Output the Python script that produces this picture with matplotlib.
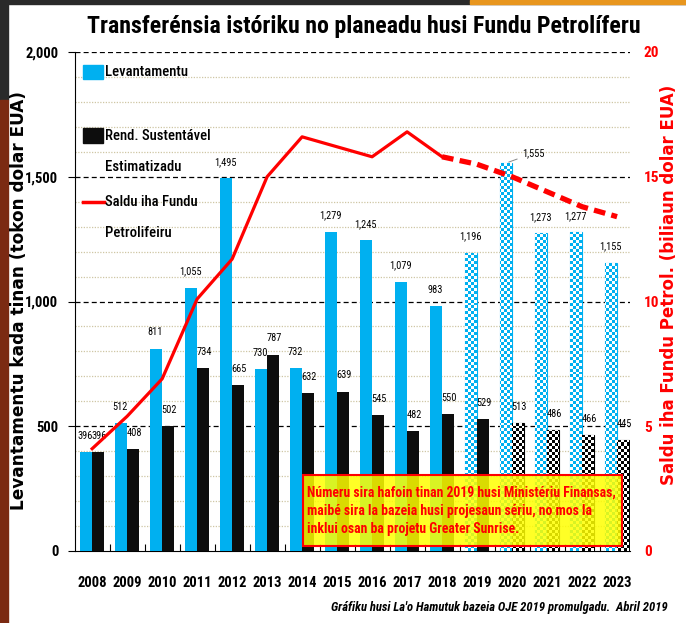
import numpy as np
import matplotlib
matplotlib.use("Agg")
import matplotlib.pyplot as plt
from matplotlib import font_manager
from matplotlib.patches import Rectangle
from matplotlib.lines import Line2D

# Data
years = ["2008", "2009", "2010", "2011", "2012", "2013", "2014", "2015",
         "2016", "2017", "2018", "2019", "2020", "2021", "2022", "2023"]
levantamentu = [396, 512, 811, 1055, 1495, 730, 732, 1279, 1245, 1079, 983,
                1196, 1555, 1273, 1277, 1155]
rend_sustentavel = [396, 408, 502, 734, 665, 787, 632, 639, 545, 482, 550,
                    529, 513, 486, 466, 445]
saldu = [4.1, 5.4, 6.9, 10.1, 11.7, 15.0, 16.6, 16.2, 15.8, 16.8, 15.8,
         15.5, 15.0, 14.4, 13.8, 13.4]
first_proj_blue = "2019"   # projected levantamentu from here
first_proj_black = "2020"  # projected rend. sustentavel from here
last_actual_saldu = "2018"

BLUE = "#00B0F0"
RED = "#FF0000"

# look for a condensed face, else use Liberation Sans (narrower than DejaVu)
NARROW_NAME, NARROW_STRETCH = "Liberation Sans", "normal"
_cond = [f for f in font_manager.fontManager.ttflist
         if f.stretch in ("condensed", "semi-condensed", "extra-condensed")
         or "Narrow" in f.name or "Condensed" in f.name]
for pref in ["Liberation Sans Narrow", "Roboto Condensed", "Open Sans Condensed",
             "Noto Sans Condensed", "Noto Sans", "Roboto", "Open Sans"]:
    hits = [f for f in _cond if f.name == pref]
    if hits:
        NARROW_NAME, NARROW_STRETCH = pref, hits[0].stretch
        break
NARROW = dict(family=[NARROW_NAME, "DejaVu Sans"], stretch=NARROW_STRETCH)

W, H = 686, 623
fig = plt.figure(figsize=(W / 100, H / 100), dpi=100)
fig.patch.set_facecolor("white")


def fx(px):
    return px / W


def fy(py):
    return 1 - py / H


def fit(t, target):
    # scale a text's font so it spans the reference width in pixels
    r = fig.canvas.get_renderer()
    w = t.get_window_extent(r).width
    t.set_fontsize(t.get_fontsize() * target / w)
    return t.get_fontsize()


# screenshot border bits
fig.patches.append(Rectangle((0, fy(4)), 1, fy(0) - fy(4), transform=fig.transFigure,
                             color="#2a2a2a", zorder=0))
fig.patches.append(Rectangle((fx(470), fy(4)), 1 - fx(470), fy(0) - fy(4),
                             transform=fig.transFigure, color="#E8961E", zorder=0))
fig.patches.append(Rectangle((0, fy(100)), fx(8), fy(0) - fy(100),
                             transform=fig.transFigure, color="#2a2a2a", zorder=0))
fig.patches.append(Rectangle((0, 0), fx(8), fy(100), transform=fig.transFigure,
                             color="#7B2A12", zorder=0))

ax = fig.add_axes([fx(75), fy(551), fx(630) - fx(75), fy(52) - fy(551)])
ax2 = ax.twinx()

x = np.arange(len(years))
bw = 0.34
ib = years.index(first_proj_blue)
ik = years.index(first_proj_black)
XLIM = (-0.49, len(years) - 0.63)

# checker textures for projected bars
ncx, ncy = 185, 167
cb = (np.add.outer(np.arange(ncy), np.arange(ncx)) % 2).astype(float)
ext = (XLIM[0], XLIM[1], 0, 2000)

blue_bars = ax.bar(x - bw / 2, levantamentu, bw, color=BLUE, zorder=3)
black_bars = ax.bar(x + bw / 2, rend_sustentavel, bw, color="#0d0d0d", zorder=3)

for bars, start, col in [(blue_bars, ib, BLUE), (black_bars, ik, "black")]:
    for i, b in enumerate(bars):
        if i < start:
            continue
        b.set_facecolor("white")
        b.set_edgecolor(col)
        b.set_linewidth(0.8)
        im = ax.imshow(cb, extent=ext, origin="lower", aspect="auto",
                       cmap=matplotlib.colors.ListedColormap(["white", col]),
                       interpolation="nearest", zorder=3.5)
        im.set_clip_path(b)
ax.set_xlim(*XLIM)
ax.set_ylim(0, 2000)
ax2.set_ylim(0, 20)

# value labels
lab_size = 7.5
for i, v in enumerate(levantamentu):
    if years[i] == "2020":
        ax.annotate(f"{v:,}", xy=(x[i] - bw / 2, v), xytext=(x[i] + 0.3, v + 20),
                    fontsize=lab_size, va="bottom", ha="left", zorder=6,
                    arrowprops=dict(arrowstyle="-", color="#888888", lw=0.7), **NARROW)
    else:
        ax.text(x[i] - bw / 2 - 0.03, v + 45, f"{v:,}", ha="center", va="bottom",
                fontsize=lab_size, zorder=6, **NARROW)
for i, v in enumerate(rend_sustentavel):
    ax.text(x[i] + bw / 2 + 0.03, v + 45, f"{v:,}", ha="center", va="bottom",
            fontsize=lab_size, zorder=6, **NARROW)

# grid
ax.set_yticks(np.arange(0, 2001, 500))
for y in np.arange(100, 2001, 100):
    if y % 500 == 0:
        ax.axhline(y, color="black", lw=0.9, ls=(0, (4, 2.5)), zorder=1)
    else:
        ax.axhline(y, color="#CFC6A4", lw=0.9, ls=(0, (1, 1.2)), zorder=1)
ax.set_yticklabels([f"{int(v):,}" for v in np.arange(0, 2001, 500)],
                   fontsize=10.5, fontweight="bold", **NARROW)
ax.tick_params(axis="y", which="major", length=5, width=0.8, pad=7)

ax.set_xticks(x)
ax.set_xticklabels(years, fontsize=10.5, fontweight="bold", **NARROW)
ax.set_xticks(x[:-1] + 0.5, minor=True)
ax.tick_params(axis="x", which="major", length=0, pad=18)
ax.tick_params(axis="x", which="minor", direction="in", length=5, width=0.8)

for s in ["top", "right"]:
    ax.spines[s].set_visible(False)
    ax2.spines[s].set_visible(False)
ax2.spines["left"].set_visible(False)
ax2.spines["bottom"].set_visible(False)

# fund balance line
ia = years.index(last_actual_saldu)
ax2.plot(x[:ia + 1], saldu[:ia + 1], color=RED, lw=2.3, zorder=5)
ax2.plot(x[ia:], saldu[ia:], color=RED, lw=3.8, ls=(0, (2.2, 1.2)), zorder=5)
ax2.set_yticks([0, 5, 10, 15, 20])
ax2.set_yticklabels(["0", "5", "10", "15", "20"], fontsize=11,
                    fontweight="bold", color=RED, **NARROW)
ax2.tick_params(axis="y", length=0, pad=10)
ax.set_zorder(1)
ax.patch.set_visible(False)
ax2.set_zorder(2)
ax2.patch.set_visible(False)

# axis titles
fig.text(fx(19), fy(300), "Levantamentu kada tinan (tokon dolar EUA)", rotation=90,
         ha="center", va="center", fontsize=12.2, fontweight="bold",
         family="DejaVu Sans")
fig.text(fx(669), fy(285), "Saldu iha Fundu Petrol. (biliaun dolar EUA)", rotation=90,
         ha="center", va="center", fontsize=12, fontweight="bold",
         family="DejaVu Sans", color=RED)

# title
t = fig.text(fx(364), fy(27), "Transferénsia istóriku no planeadu husi Fundu Petrolíferu",
             ha="center", va="center", fontsize=16, fontweight="bold", **NARROW)
fit(t, 552)

# legend
fig.patches.append(Rectangle((fx(83), fy(79)), fx(20), fy(65) - fy(79),
                             transform=fig.transFigure, color=BLUE, zorder=10))
fig.patches.append(Rectangle((fx(83), fy(143)), fx(20), fy(128) - fy(143),
                             transform=fig.transFigure, color="#0d0d0d", zorder=10))
fig.lines.append(Line2D([fx(83), fx(104)], [fy(202), fy(202)], transform=fig.transFigure,
                        color=RED, lw=2.5, zorder=10))
leg = [fig.text(fx(105), fy(py), s, ha="left", va="center", fontsize=11.5,
                fontweight="medium", zorder=11, **NARROW)
       for py, s in [(72, "Levantamentu"), (136, "Rend. Sustentável"),
                     (167, "Estimatizadu"), (202, "Saldu iha Fundu"),
                     (233, "Petrolifeiru")]]
leg_size = min(fit(leg[1], 106), 13)
for t in leg:
    t.set_fontsize(leg_size)

# note box
fig.patches.append(Rectangle((fx(303), fy(546)), fx(622) - fx(303), fy(475) - fy(546),
                             transform=fig.transFigure, facecolor="#FFFF00", alpha=0.85,
                             edgecolor="none", zorder=20))
fig.patches.append(Rectangle((fx(303), fy(546)), fx(622) - fx(303), fy(475) - fy(546),
                             transform=fig.transFigure, facecolor="none",
                             edgecolor=RED, lw=1.5, zorder=21))
t = fig.text(fx(307), fy(511),
             "Númeru sira hafoin tinan 2019 husi Ministériu Finansas,\n"
             "maibé sira la bazeia husi projesaun sériu, no mos la\n"
             "inklui osan ba projetu Greater Sunrise.",
             ha="left", va="center", fontsize=10.5, fontweight="bold",
             color=RED, linespacing=1.4, zorder=22, **NARROW)
fit(t, 310)

# source
t = fig.text(fx(668), fy(607), "Gráfiku husi La'o Hamutuk bazeia OJE 2019 promulgadu.  Abril 2019",
             ha="right", va="center", fontsize=9, fontweight="bold", style="italic",
             **NARROW)
fit(t, 338)

fig.savefig("out.png", dpi=100)
